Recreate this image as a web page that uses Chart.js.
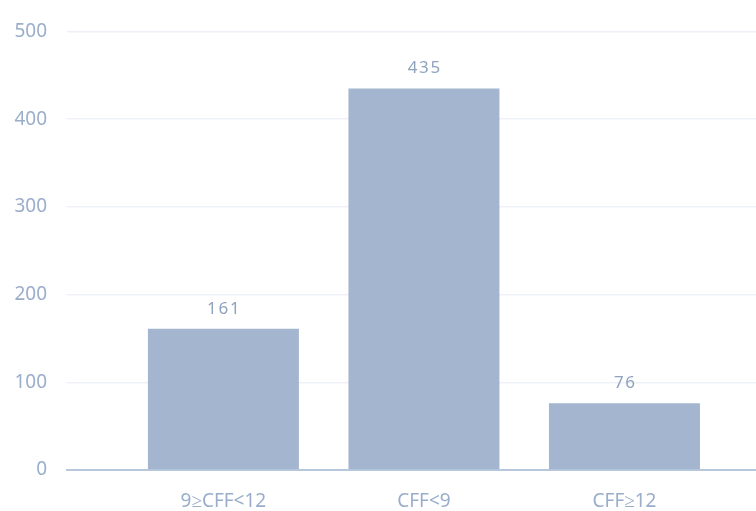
<!DOCTYPE html>
<html>
<head>
<meta charset="utf-8">
<script src="https://cdn.jsdelivr.net/npm/chart.js@4/dist/chart.umd.min.js"></script>
<style>
  html, body { margin: 0; padding: 0; background: #fff; }
  #wrap { width: 756px; height: 511px; }
</style>
</head>
<body>
<div id="wrap"><canvas id="cffChart"></canvas></div>
<script>
const categories = ["9≥CFF<12", "CFF<9", "CFF≥12"];
const counts = [161, 435, 76];
const yTicks = [0, 100, 200, 300, 400, 500];

const barColor = "#a3b5cf";
const labelColor = "#9aaecb";

// value labels above each bar
const valueLabels = {
  id: "valueLabels",
  afterDatasetsDraw(chart) {
    const ctx = chart.ctx;
    const meta = chart.getDatasetMeta(0);
    ctx.save();
    ctx.font = "17px 'Noto Sans'";
    ctx.fillStyle = "#8fa3bf";
    ctx.textAlign = "center";
    ctx.textBaseline = "middle";
    meta.data.forEach((bar, i) => {
      ctx.fillText(String(counts[i]).split("").join(String.fromCharCode(8202)), bar.x, bar.y - 20);
    });
    ctx.restore();
  }
};

new Chart(document.getElementById("cffChart"), {
  type: "bar",
  data: {
    datasets: [{
      data: counts.map((v, i) => ({ x: i, y: v })),
      backgroundColor: barColor,
      borderWidth: 0,
      categoryPercentage: 1,
      barPercentage: 0.753
    }]
  },
  options: {
    responsive: true,
    maintainAspectRatio: false,
    animation: false,
    layout: { padding: { top: 18, right: 0, left: 0, bottom: 0 } },
    plugins: { legend: { display: false }, tooltip: { enabled: false } },
    scales: {
      x: {
        type: "linear",
        offset: false,
        min: -0.78,
        max: 2.656,
        afterBuildTicks: s => { s.ticks = categories.map((c, i) => ({ value: i })); },
        afterFit: s => { s.height = 41; },
        grid: { display: false },
        border: { color: "#b8c8dc", width: 2 },
        ticks: {
          callback: v => categories[v],
          color: labelColor,
          font: { family: "Noto Sans", size: 19 },
          padding: 12,
          maxRotation: 0
        }
      },
      y: {
        min: 0,
        max: 500,
        afterBuildTicks: s => { s.ticks = yTicks.map(v => ({ value: v })); },
        afterFit: s => { s.width = 67; },
        grid: { color: "#edf1f7", lineWidth: 1.5, drawTicks: false },
        border: { display: false },
        ticks: {
          color: labelColor,
          font: { family: "Noto Sans", size: 19 },
          padding: 20
        }
      }
    }
  },
  plugins: [valueLabels]
});
</script>
</body>
</html>
